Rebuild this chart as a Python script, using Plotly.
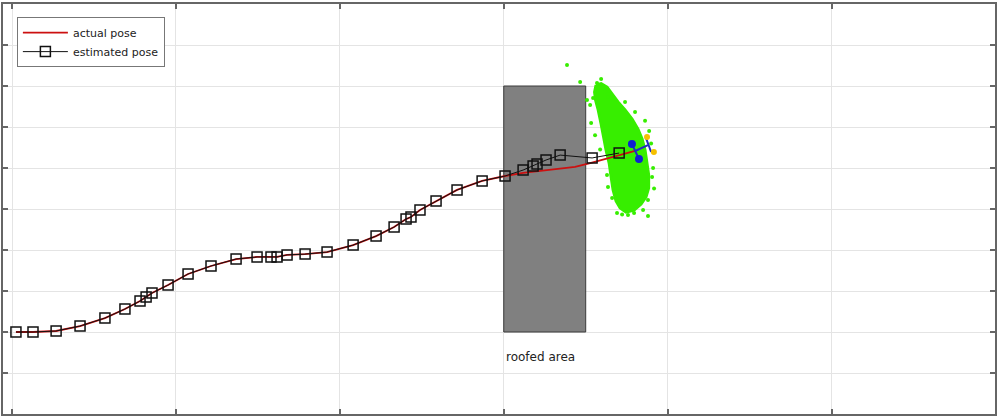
import plotly.graph_objects as go

# ---- data (x grid step 10, y grid step 2) ----
est_x = [0.24, 1.28, 2.69, 4.15, 5.67, 6.89, 7.81, 8.18, 8.54, 9.52, 10.74, 12.14,
         13.67, 14.95, 15.80, 16.17, 16.78, 17.88, 19.22, 20.81, 22.21, 23.31, 24.04,
         24.34, 24.89, 25.87, 27.15, 28.68, 30.08, 31.18, 31.79, 32.03, 32.58, 33.44,
         35.39, 37.04]
est_y = [-6.00, -6.00, -5.95, -5.71, -5.32, -4.88, -4.49, -4.29, -4.10, -3.71, -3.17,
         -2.78, -2.44, -2.34, -2.34, -2.34, -2.24, -2.20, -2.10, -1.76, -1.32, -0.88,
         -0.49, -0.39, -0.05, 0.39, 0.93, 1.37, 1.61, 1.90, 2.10, 2.20, 2.39, 2.63,
         2.49, 2.73]

act_x = [0.24, 1.28, 2.69, 4.15, 5.67, 6.89, 7.81, 8.18, 8.54, 9.52, 10.74, 12.14,
         13.67, 14.95, 15.80, 16.17, 16.78, 17.88, 19.22, 20.81, 22.21, 23.31, 24.04,
         24.34, 24.89, 25.87, 27.15, 28.68, 30.08, 31.18, 32.22, 33.25, 34.35, 35.27,
         36.18, 36.91, 37.58, 38.01]
act_y = [-6.00, -6.00, -5.95, -5.71, -5.32, -4.88, -4.49, -4.29, -4.10, -3.71, -3.17,
         -2.78, -2.44, -2.34, -2.34, -2.34, -2.24, -2.20, -2.10, -1.76, -1.32, -0.88,
         -0.49, -0.39, -0.05, 0.39, 0.93, 1.37, 1.61, 1.76, 1.85, 1.95, 2.05, 2.24,
         2.44, 2.59, 2.73, 2.83]

roof_x = [30, 35, 35, 30, 30]
roof_y = [-6, -6, 6, 6, -6]
roof_label = "roofed area"

# dense part of the particle cloud (outline)
cloud_x = [35.63, 35.94, 36.30, 36.61, 36.97, 37.40, 37.83, 38.19, 38.44, 38.62, 38.74,
           38.84, 38.84, 38.68, 38.38, 37.95, 37.46, 37.10, 36.85, 36.67, 36.55, 36.43,
           36.24, 36.12, 35.94, 35.76, 35.60, 35.54, 35.63]
cloud_y = [6.05, 6.12, 5.95, 5.61, 5.22, 4.83, 4.39, 3.90, 3.41, 2.88, 2.29, 1.66, 1.02,
           0.59, 0.24, -0.05, -0.15, 0.05, 0.39, 0.93, 1.56, 2.24, 2.88, 3.46, 4.15,
           4.83, 5.32, 5.71, 6.05]

# scattered particles around it
stray_x = [33.86, 34.66, 35.08, 35.27, 35.45, 35.69, 35.94, 36.18, 36.36, 37.40, 38.01,
           35.33, 35.57, 35.88, 36.30, 36.36, 36.61, 36.91, 37.22, 37.58, 37.95, 38.50,
           38.80, 38.80, 39.11, 39.05, 38.99, 38.87, 38.62, 39.17]
stray_y = [7.02, 6.20, 5.32, 5.07, 5.41, 6.15, 6.34, 5.71, 5.46, 5.22, 4.73,
           4.20, 3.60, 2.90, 1.66, 1.07, 0.54, -0.20, -0.27, -0.29, -0.20, -0.05,
           -0.34, 0.44, 2.00, 1.56, 3.20, 3.80, 4.30, 1.00]

wheel_x = [37.82, 38.25]
wheel_y = [3.17, 2.44]
head_x = [38.01, 38.80]
head_y = [2.83, 3.12]
bar_x = [38.68, 38.99]
bar_y = [3.46, 2.78]
tip_x = [38.74, 39.16]
tip_y = [3.51, 2.78]

GREEN = "rgb(55,238,0)"
FONT = "DejaVu Sans, Verdana, sans-serif"

fig = go.Figure()

# roofed area
fig.add_trace(go.Scatter(x=roof_x, y=roof_y, mode="lines", fill="toself",
                         fillcolor="#808080", line=dict(color="#3a3a3a", width=1),
                         showlegend=False, hoverinfo="skip"))

# particle cloud
fig.add_trace(go.Scatter(x=cloud_x, y=cloud_y, mode="lines", fill="toself",
                         fillcolor=GREEN, line=dict(color=GREEN, width=3),
                         showlegend=False, hoverinfo="skip"))
fig.add_trace(go.Scatter(x=stray_x, y=stray_y, mode="markers",
                         marker=dict(color=GREEN, size=4),
                         showlegend=False, hoverinfo="skip"))

# trajectories
fig.add_trace(go.Scatter(x=act_x, y=act_y, mode="lines", name="actual pose",
                         line=dict(color="#cc1010", width=1.8)))
fig.add_trace(go.Scatter(x=est_x, y=est_y, mode="lines+markers", name="estimated pose",
                         line=dict(color="#111111", width=1),
                         marker=dict(symbol="square-open", size=10, color="#111111",
                                     line=dict(width=1.5))))

# robot glyph
fig.add_trace(go.Scatter(x=head_x, y=head_y, mode="lines",
                         line=dict(color="#2030c0", width=2), showlegend=False))
fig.add_trace(go.Scatter(x=bar_x, y=bar_y, mode="lines",
                         line=dict(color="#2030c0", width=2), showlegend=False))
fig.add_trace(go.Scatter(x=wheel_x, y=wheel_y, mode="lines+markers",
                         line=dict(color="#2030c0", width=2),
                         marker=dict(color="#1020d0", size=8), showlegend=False))
fig.add_trace(go.Scatter(x=tip_x, y=tip_y, mode="markers",
                         marker=dict(color="#f5c000", size=6), showlegend=False))

fig.add_annotation(x=30, y=-7.2, text=roof_label, showarrow=False, xanchor="left",
                   yanchor="middle", font=dict(size=12, color="#222222", family=FONT))

axis_common = dict(showticklabels=False, showgrid=True, gridcolor="#e4e4e4", gridwidth=1,
                   zeroline=False, showline=True, linecolor="#666666", linewidth=1.5,
                   mirror="ticks", ticks="inside", ticklen=5, tickcolor="#666666",
                   tickwidth=1.5)

fig.update_xaxes(range=[-0.55, 59.97], tick0=0, dtick=10, **axis_common)
fig.update_yaxes(range=[-10, 10], tick0=0, dtick=2, **axis_common)

fig.update_layout(
    width=1000, height=419,
    margin=dict(l=3, r=5, t=4, b=5),
    plot_bgcolor="white", paper_bgcolor="white",
    font=dict(family=FONT, color="#222222"),
    legend=dict(x=0.014, y=0.968, xanchor="left", yanchor="top",
                bgcolor="white", bordercolor="#777777", borderwidth=1,
                font=dict(size=11, family=FONT), tracegroupgap=0, itemwidth=45),
    showlegend=True,
)

fig.write_html("out.html", config={"displayModeBar": False},
               post_script="document.body.style.margin='0px';document.body.style.overflow='hidden';")
